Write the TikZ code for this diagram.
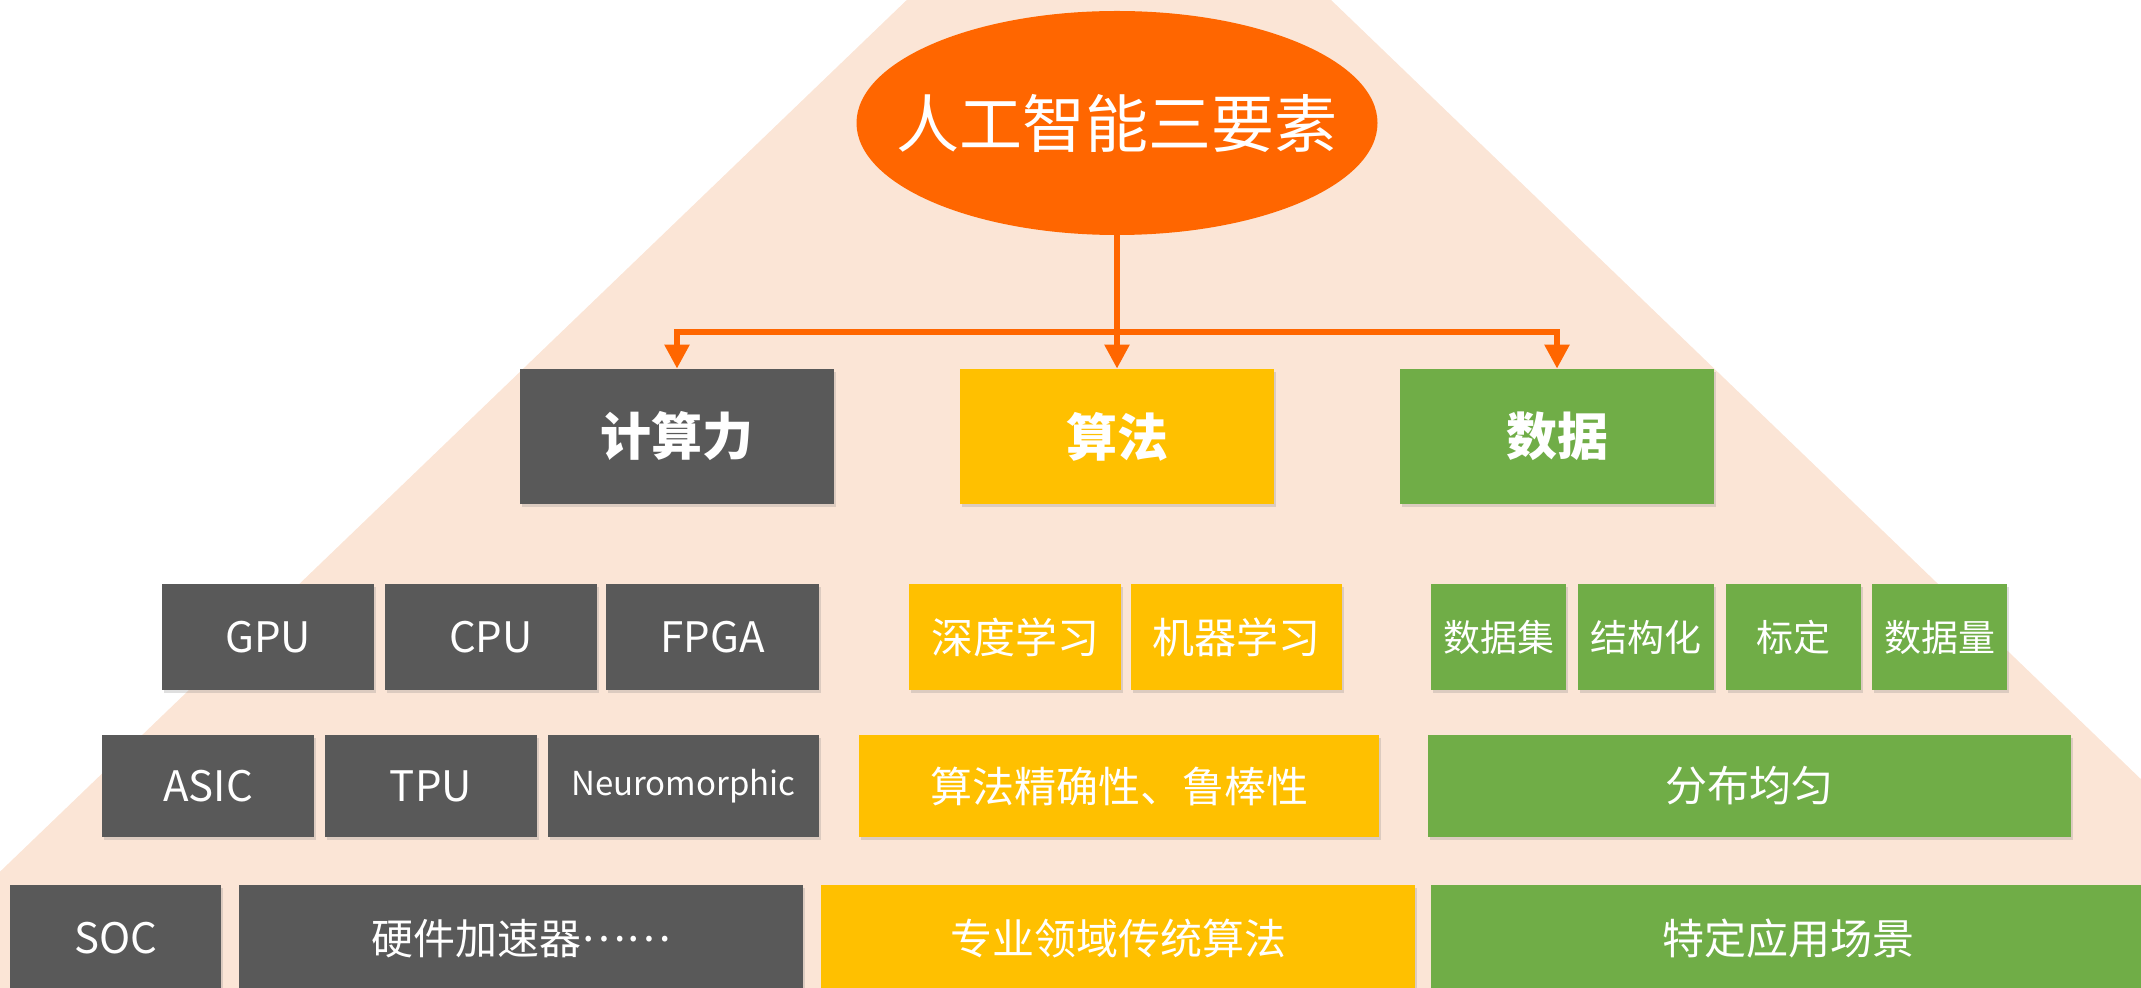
\documentclass[tikz,border=0pt]{standalone}
\usepackage{fontspec}
\setmainfont{Noto Sans CJK SC}
\usetikzlibrary{arrows.meta,shadows,shapes.geometric}
\definecolor{beige}{HTML}{FBE5D6}
\definecolor{darkbox}{HTML}{595959}
\definecolor{yelbox}{HTML}{FFC000}
\definecolor{grnbox}{HTML}{70AD47}
\definecolor{orng}{HTML}{FF6600}
\newcommand{\mybox}[7]{\node[#6, minimum width={(#4-#2)*0.5pt}, minimum height={(#5-#3)*0.5pt}] (#1) at ({(#2+#4)/2},{(#3+#5)/2}) {#7};}
\begin{document}
\begin{tikzpicture}[x=0.5pt,y=-0.5pt,
  base/.style={inner sep=0pt, text=white, drop shadow={shadow xshift=1pt, shadow yshift=-1.5pt, opacity=0.25}},
  dk/.style={base, fill=darkbox},
  yl/.style={base, fill=yelbox},
  gn/.style={base, fill=grnbox},
  head/.style={font=\fontsize{25.5}{30}\selectfont\bfseries},
  mid/.style={font=\fontsize{21}{25}\selectfont},
  sml/.style={font=\fontsize{18.5}{22}\selectfont},
  tiny/.style={font=\fontsize{16.5}{20}\selectfont},
  conn/.style={draw=orng, line width=2.8pt, -{Triangle[width=12pt,length=12pt]}}
]
\useasboundingbox (0,0) rectangle (2141,988);
\begin{scope}
\clip (0,0) rectangle (2141,988);
\fill[beige] (-121,988) -- (1119,-204) -- (2358,988) -- cycle;
\end{scope}

\node[ellipse, fill=orng, text=white, minimum width=521*0.5pt, minimum height=224*0.5pt, inner sep=0pt,
  font=\fontsize{31.5}{36}\selectfont] (top) at (1117,123) {\makebox[0pt]{人工智能三要素}};

% row 1
\mybox{cmp}{520}{369}{834}{504}{dk,head}{计算力}
\mybox{alg}{960}{369}{1274}{504}{yl,head}{算法}
\mybox{dat}{1400}{369}{1714}{504}{gn,head}{数据}

% connectors
\coordinate (hb) at (1117,332);
\draw[conn] (top.south) -- (alg.north);
\draw[conn] (hb) -| (cmp.north);
\draw[conn] (hb) -| (dat.north);

% row 2
\mybox{gpu}{162}{584}{374}{690}{dk,mid}{GPU}
\mybox{cpu}{385}{584}{597}{690}{dk,mid}{CPU}
\mybox{fpga}{606}{584}{819}{690}{dk,mid}{FPGA}
\mybox{dl}{909}{584}{1121}{690}{yl,mid}{深度学习}
\mybox{ml}{1131}{584}{1342}{690}{yl,mid}{机器学习}
\mybox{ds}{1431}{584}{1566}{690}{gn,sml}{数据集}
\mybox{st}{1578}{584}{1714}{690}{gn,sml}{结构化}
\mybox{lb}{1726}{584}{1861}{690}{gn,sml}{标定}
\mybox{dq}{1872}{584}{2007}{690}{gn,sml}{数据量}

% row 3
\mybox{asic}{102}{735}{314}{837}{dk,mid}{ASIC}
\mybox{tpu}{325}{735}{537}{837}{dk,mid}{TPU}
\mybox{neu}{548}{735}{819}{837}{dk,tiny}{Neuromorphic}
\mybox{acc}{859}{735}{1379}{837}{yl,mid}{算法精确性、鲁棒性}
\mybox{dist}{1428}{735}{2071}{837}{gn,mid}{分布均匀}

% row 4
\mybox{soc}{10}{885}{221}{992}{dk,mid}{SOC}
\mybox{hw}{239}{885}{803}{992}{dk,mid}{硬件加速器\raisebox{0.3em}{……}}
\mybox{trad}{821}{885}{1415}{992}{yl,mid}{专业领域传统算法}
\mybox{app}{1431}{885}{2145}{992}{gn,mid}{特定应用场景}
\end{tikzpicture}
\end{document}
